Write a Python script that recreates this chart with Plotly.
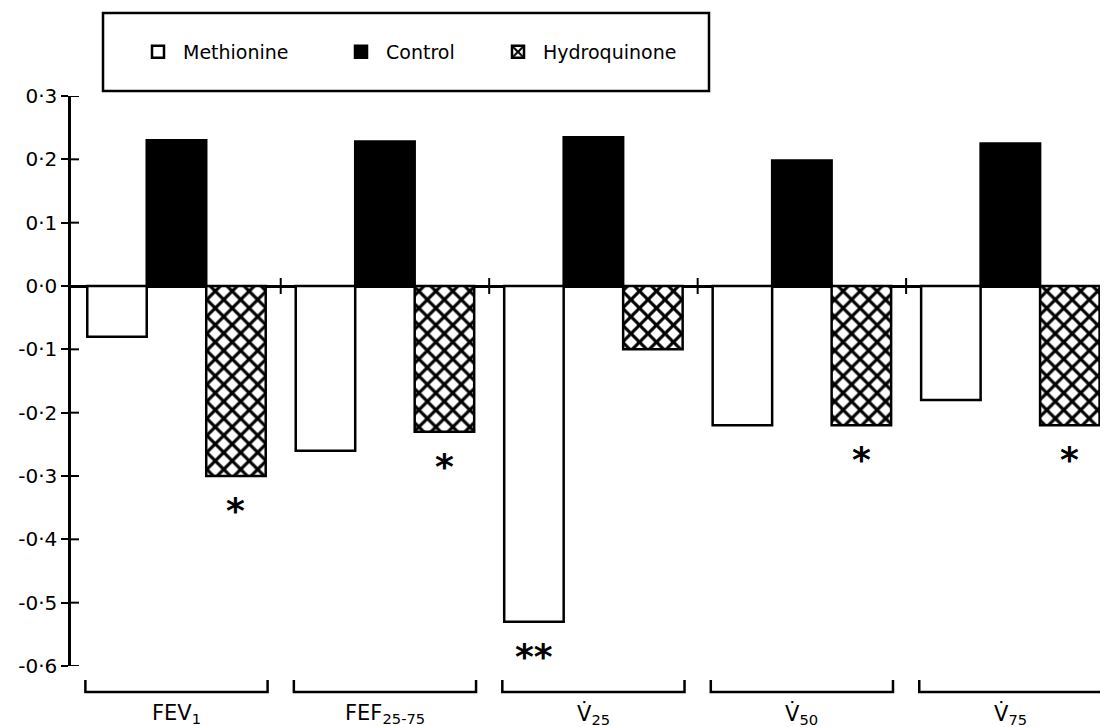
import plotly.graph_objects as go

# ---- data ----
categories = ["FEV<sub>1</sub>", "FEF<sub>25-75</sub>", "V\u0307<sub>25</sub>", "V\u0307<sub>50</sub>", "V\u0307<sub>75</sub>"]
methionine = [-0.08, -0.26, -0.53, -0.22, -0.18]
control = [0.23, 0.228, 0.235, 0.198, 0.225]
hydroquinone = [-0.30, -0.23, -0.10, -0.22, -0.22]
methionine_sig = ["", "", "**", "", ""]
control_sig = ["", "", "", "", ""]
hydroquinone_sig = ["*", "*", "", "*", "*"]
y_ticks = [0.3, 0.2, 0.1, 0.0, -0.1, -0.2, -0.3, -0.4, -0.5, -0.6]
y_tick_labels = ["0\u00b73", "0\u00b72", "0\u00b71", "0\u00b70", "-0\u00b71", "-0\u00b72", "-0\u00b73", "-0\u00b74", "-0\u00b75", "-0\u00b76"]

FONT = "DejaVu Sans, sans-serif"
# page body has an 8px margin; size the figure so it fits the 1110x727 window
PAGE_OFF = 8
W, H = 1110 - PAGE_OFF, 727 - PAGE_OFF
PLOT_LEFT, PLOT_RIGHT, PLOT_TOP, PLOT_BOTTOM = 71, 1100, 96, 666   # window coordinates
L = PLOT_LEFT - PAGE_OFF
T = PLOT_TOP - PAGE_OFF
R = 1110 - PLOT_RIGHT
B = 727 - PLOT_BOTTOM
PW, PH = PLOT_RIGHT - PLOT_LEFT, PLOT_BOTTOM - PLOT_TOP
X_RANGE = [-0.506, 4.43]
Y_RANGE = [-0.6, 0.3]

def px_x(dx):
    return dx / PW

def px_y(dy):
    return dy / PH

idx = list(range(len(categories)))

fig = go.Figure()
fig.add_trace(go.Bar(name="Methionine", x=idx, y=methionine,
                     marker=dict(color="white", line=dict(color="black", width=2.5)),
                     legend="legend", showlegend=True))
fig.add_trace(go.Bar(name="Control", x=idx, y=control,
                     marker=dict(color="black", line=dict(color="black", width=2.5)),
                     legend="legend2", showlegend=True))
fig.add_trace(go.Bar(name="Hydroquinone", x=idx, y=hydroquinone,
                     marker=dict(color="white", line=dict(color="black", width=2.5),
                                 pattern=dict(shape="x", fgcolor="black", bgcolor="white",
                                              fgopacity=1, size=12, solidity=0.45,
                                              fillmode="replace")),
                     legend="legend3", showlegend=True))

bargap = 0.144
bar_w = (1 - bargap) / 3
shapes = []
annotations = []

# significance marks
for off, vals, sigs in [(-bar_w, methionine, methionine_sig), (0, control, control_sig), (bar_w, hydroquinone, hydroquinone_sig)]:
    for i, (v, s) in enumerate(zip(vals, sigs)):
        if s:
            annotations.append(dict(x=i + off, y=min(v, 0), xref="x", yref="y", text=f"<b>{s}</b>",
                                    showarrow=False, yanchor="top", yshift=-12,
                                    font=dict(size=36, color="black", family="DejaVu Sans")))

# y-axis inner tick halves
for t in y_ticks:
    shapes.append(dict(type="line", xref="paper", yref="y", x0=0, x1=px_x(8), y0=t, y1=t,
                       line=dict(color="black", width=2)))

# group boundary ticks on zero line
dy = (Y_RANGE[1] - Y_RANGE[0]) * px_y(8)
for i in range(len(categories) - 1):
    shapes.append(dict(type="line", xref="x", yref="y", x0=i + 0.5, x1=i + 0.5, y0=-dy, y1=dy,
                       line=dict(color="black", width=2)))

# brackets and category labels
half = 0.437
yb_top, yb_bot = -px_y(14), -px_y(26)
for i, c in enumerate(categories):
    shapes.append(dict(type="path", xref="x", yref="paper",
                       path=f"M {i - half},{yb_top} L {i - half},{yb_bot} L {i + half},{yb_bot} L {i + half},{yb_top}",
                       line=dict(color="black", width=2.5)))
    annotations.append(dict(x=i, y=-px_y(48), xref="x", yref="paper", text=c, showarrow=False,
                            yanchor="middle", font=dict(size=21, color="black", family=FONT)))

# legend frame
shapes.append(dict(type="rect", xref="paper", yref="paper",
                   x0=px_x(103 - PLOT_LEFT), x1=px_x(709 - PLOT_LEFT),
                   y0=1 + px_y(PLOT_TOP - 13), y1=1 + px_y(PLOT_TOP - 91),
                   line=dict(color="black", width=2.5), fillcolor="rgba(0,0,0,0)"))

leg_common = dict(orientation="h", yanchor="middle", y=1 + px_y(PLOT_TOP - 52), xanchor="left",
                  font=dict(size=19, color="black", family=FONT), bgcolor="rgba(0,0,0,0)",
                  borderwidth=0, itemwidth=40)

fig.update_layout(
    width=W, height=H,
    margin=dict(l=L, r=R, t=T, b=B),
    paper_bgcolor="white", plot_bgcolor="white",
    barmode="group", bargap=bargap, bargroupgap=0,
    showlegend=True,
    font=dict(family=FONT, color="black"),
    xaxis=dict(range=X_RANGE, showgrid=False, showline=False, zeroline=False,
               showticklabels=False, ticks=""),
    yaxis=dict(range=Y_RANGE, tickvals=y_ticks, ticktext=y_tick_labels, showgrid=False,
               showline=True, linecolor="black", linewidth=2.5, ticks="outside", ticklen=7,
               tickwidth=2, tickcolor="black", zeroline=True, zerolinecolor="black",
               zerolinewidth=2.5, tickfont=dict(size=20, color="black", family=FONT)),
    legend=dict(x=px_x(183 - 50 - PLOT_LEFT), **leg_common),
    legend2=dict(x=px_x(386 - 50 - PLOT_LEFT), **leg_common),
    legend3=dict(x=px_x(543 - 50 - PLOT_LEFT), **leg_common),
    shapes=shapes,
    annotations=annotations,
)

fig.write_html("out.html")
